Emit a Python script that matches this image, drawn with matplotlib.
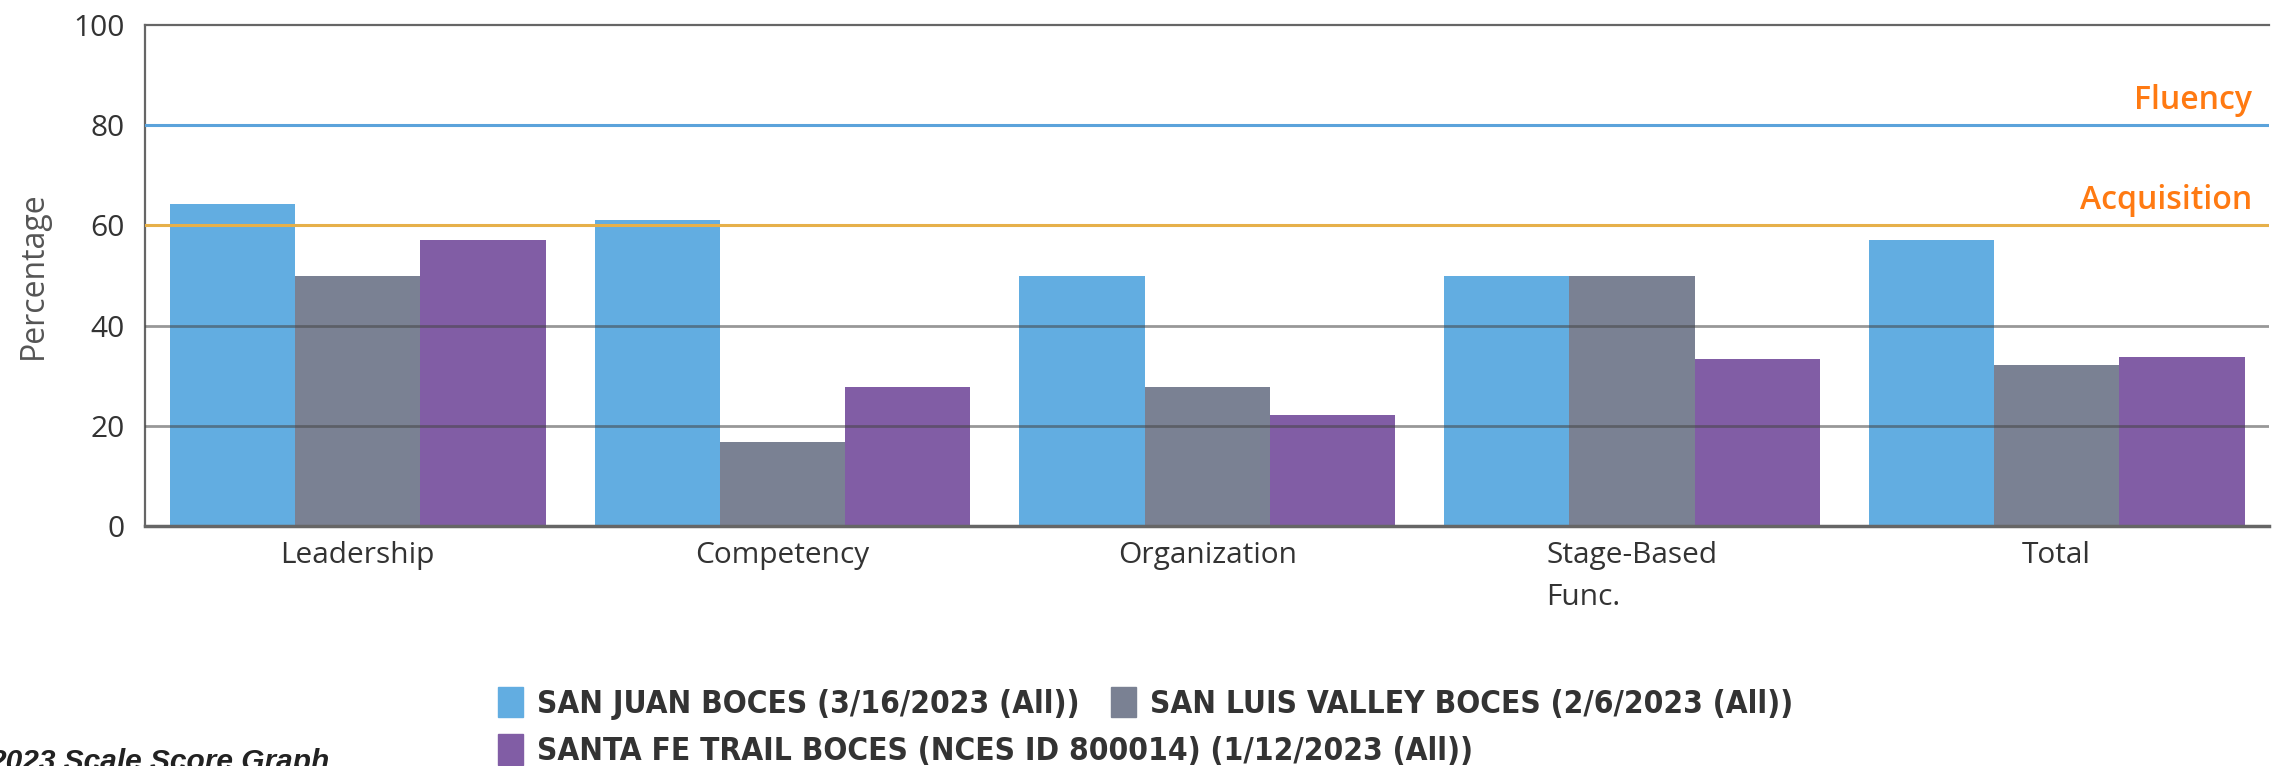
import numpy as np
import matplotlib.pyplot as plt
from matplotlib.patches import Patch

# Chart data
categories = ['Leadership', 'Competency', 'Organization', 'Stage-Based\nFunc.', 'Total']
series_names = ['SAN JUAN BOCES (3/16/2023 (All))',
                'SAN LUIS VALLEY BOCES (2/6/2023 (All))',
                'SANTA FE TRAIL BOCES (NCES ID 800014) (1/12/2023 (All))']
san_juan = [64.3, 61, 50, 50, 57.1]
san_luis = [50, 16.7, 27.8, 50, 32.1]
santa_fe = [57.1, 27.8, 22.2, 33.3, 33.7]
colors = ['#62ADE1', '#7A8193', '#815DA5']

fluency_level = 80
acquisition_level = 60

plt.rcParams['font.family'] = ['Open Sans', 'DejaVu Sans']

fig = plt.figure(figsize=(22.72, 7.66), dpi=100)
ax = fig.add_axes([0.064, 0.3133, 0.9347, 0.6540])

x = np.arange(len(categories))
w = 0.295
for i, vals in enumerate([san_juan, san_luis, santa_fe]):
    ax.bar(x + (i - 1) * w, vals, width=w, color=colors[i], zorder=2)

# gridlines show through the bars
for g in [20, 40]:
    ax.axhline(g, color='#444444', lw=2, alpha=0.55, zorder=3)
ax.axhline(fluency_level, color='#5BA3DB', lw=2.2, zorder=3)
ax.axhline(acquisition_level, color='#E6B04A', lw=2.2, zorder=3)

ax.text(0.992, fluency_level + 1.6, 'Fluency', transform=ax.get_yaxis_transform(),
        ha='right', va='bottom', color='#FF7A12', fontsize=23, fontweight='semibold')
ax.text(0.992, acquisition_level + 1.6, 'Acquisition', transform=ax.get_yaxis_transform(),
        ha='right', va='bottom', color='#FF7A12', fontsize=23, fontweight='semibold')

ax.set_xlim(-0.5, len(categories) - 0.5)
ax.set_ylim(0, 100)
ax.set_yticks([0, 20, 40, 60, 80, 100])
ax.set_xticks(x)
ax.set_xticklabels(categories, fontsize=21.5, color='#333333', linespacing=1.6)
for lbl in ax.get_xticklabels():
    lbl.set_multialignment('left')
ax.tick_params(axis='y', length=0, pad=15, labelsize=21.5, labelcolor='#333333')
ax.tick_params(axis='x', length=0, pad=11)
ax.set_ylabel('Percentage', fontsize=23, color='#555555', labelpad=17)

ax.spines['right'].set_visible(False)
for s in ['left', 'top', 'bottom']:
    ax.spines[s].set_color('#666666')
ax.spines['left'].set_linewidth(1.6)
ax.spines['top'].set_linewidth(1.6)
ax.spines['bottom'].set_linewidth(2.5)

# legend laid out as two rows
leg_font = {'family': 'DejaVu Sans', 'stretch': 'condensed', 'weight': 'bold', 'size': 22.7}
h = [Patch(color=c) for c in colors]
leg1 = fig.legend(h[:2], series_names[:2], loc='center left', bbox_to_anchor=(0.219, 0.082),
                  ncol=2, frameon=False, prop=leg_font, handlelength=0.8, handleheight=1.1,
                  handletextpad=0.45, columnspacing=1.0, borderaxespad=0, borderpad=0)
leg2 = fig.legend(h[2:], series_names[2:], loc='center left', bbox_to_anchor=(0.219, 0.02),
                  frameon=False, prop=leg_font, handlelength=0.8, handleheight=1.1,
                  handletextpad=0.45, borderaxespad=0, borderpad=0)
for leg in (leg1, leg2):
    for t in leg.get_texts():
        t.set_color('#333333')

# caption below the chart, clipped at the image edge as in the source
fig.text(330 / 2272, 0.024, '2023 Scale Score Graph', ha='right', va='top',
         fontsize=21.5, fontweight='bold', fontstyle='italic',
         family=['Liberation Sans', 'DejaVu Sans'], color='#222222')

fig.savefig('out.png', dpi=100)
